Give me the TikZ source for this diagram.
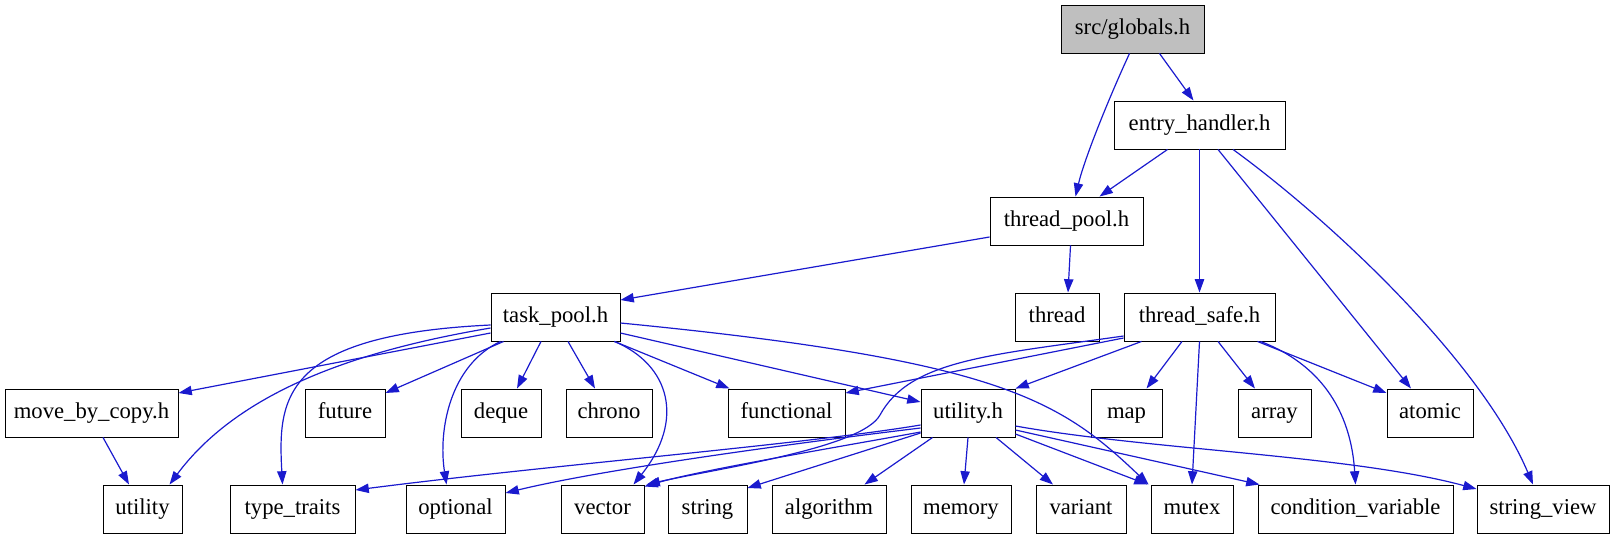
\documentclass[tikz,border=0pt]{standalone}
\usepackage{fontspec}
\setmainfont{Liberation Serif}
\usetikzlibrary{arrows.meta}
\definecolor{edgeblue}{RGB}{26,26,206}
\definecolor{rootgray}{RGB}{191,191,191}
\tikzset{
  box/.style={draw=black, line width=0.7pt, fill=white, inner sep=0pt, minimum height=36pt,
    font=\fontsize{17}{20}\selectfont, text height=11.5pt, text depth=3.5pt},
  root/.style={box, fill=rootgray},
  edge/.style={draw=edgeblue, line width=0.9pt, -{Triangle[length=10pt,width=7pt]}}
}
\begin{document}
\begin{tikzpicture}[x=0.75pt,y=-0.75pt]
\useasboundingbox (0,0) rectangle (1615,539);
% row 0
\node[root, minimum width=107.25pt] (globals) at (1132.5,29) {src/globals.h};
% row 1
\node[box, minimum width=128.25pt] (entry) at (1199.5,125) {entry\_handler.h};
% row 2
\node[box, minimum width=114.75pt] (tpool) at (1066.5,221) {thread\_pool.h};
% row 3
\node[box, minimum width=96.75pt] (taskp) at (555.5,317) {task\_pool.h};
\node[box, minimum width=63pt] (thread) at (1057,317) {thread};
\node[box, minimum width=113.25pt] (tsafe) at (1199.5,317) {thread\_safe.h};
% row 4
\node[box, minimum width=129.75pt] (mbc) at (91.5,413) {move\_by\_copy.h};
\node[box, minimum width=60pt] (future) at (345,413) {future};
\node[box, minimum width=60pt] (deque) at (501,413) {deque};
\node[box, minimum width=64.5pt] (chrono) at (609,413) {chrono};
\node[box, minimum width=87.75pt] (functional) at (786.5,413) {functional};
\node[box, minimum width=70.5pt] (utilh) at (968,413) {utility.h};
\node[box, minimum width=53.25pt] (map) at (1126.5,413) {map};
\node[box, minimum width=54.75pt] (array) at (1274.5,413) {array};
\node[box, minimum width=64.5pt] (atomic) at (1430,413) {atomic};
% row 5
\node[box, minimum width=59.25pt] (utility) at (142.5,509) {utility};
\node[box, minimum width=93.75pt] (typetraits) at (292.5,509) {type\_traits};
\node[box, minimum width=74.25pt] (optional) at (455.5,509) {optional};
\node[box, minimum width=62.25pt] (vector) at (602.5,509) {vector};
\node[box, minimum width=59.25pt] (string) at (707.5,509) {string};
\node[box, minimum width=85.5pt] (algorithm) at (829,509) {algorithm};
\node[box, minimum width=75pt] (memory) at (961,509) {memory};
\node[box, minimum width=67.5pt] (variant) at (1081,509) {variant};
\node[box, minimum width=61.5pt] (mutex) at (1192,509) {mutex};
\node[box, minimum width=146.25pt] (condvar) at (1355.5,509) {condition\_variable};
\node[box, minimum width=99pt] (stringview) at (1543,509) {string\_view};

% globals
\draw[edge] ([shift={(-3,0)}]globals.south) .. controls (1108,100) and (1084,160) .. ([shift={(9,0)}]tpool.north);
\draw[edge] ([shift={(27,0)}]globals.south) -- ([shift={(-6,0)}]entry.north);
% entry_handler
\draw[edge] ([shift={(-32,0)}]entry.south) -- ([shift={(33,0)}]tpool.north);
\draw[edge] (entry.south) -- (tsafe.north);
\draw[edge] ([shift={(18.5,0)}]entry.south) -- ([shift={(-19,0)}]atomic.north);
\draw[edge] ([shift={(33.5,0)}]entry.south) .. controls (1330,220) and (1480,360) .. ([shift={(-10,0)}]stringview.north);
% thread_pool
\draw[edge] ([shift={(0,16)}]tpool.west) -- ([shift={(0,-17)}]taskp.east);
\draw[edge] ([shift={(4,0)}]tpool.south) -- ([shift={(11,0)}]thread.north);
% task_pool
\draw[edge] ([shift={(0,16)}]taskp.west) -- ([shift={(0,-20)}]mbc.east);
\draw[edge] ([shift={(0,11)}]taskp.west) .. controls (360,350) and (240,390) .. ([shift={(27,0)}]utility.north);
\draw[edge] ([shift={(0,8)}]taskp.west) .. controls (280,335) and (278,400) .. ([shift={(-10,0)}]typetraits.north);
\draw[edge] ([shift={(13,0)}]taskp.south west) -- ([shift={(0,-20)}]future.east);
\draw[edge] ([shift={(10,0)}]taskp.south west) .. controls (450,365) and (438,430) .. ([shift={(-9,0)}]optional.north);
\draw[edge] ([shift={(-14.5,0)}]taskp.south) -- ([shift={(16,0)}]deque.north);
\draw[edge] ([shift={(12.5,0)}]taskp.south) -- ([shift={(-14,0)}]chrono.north);
\draw[edge] ([shift={(-6,0)}]taskp.south east) .. controls (670,365) and (685,420) .. ([shift={(31,0)}]vector.north);
\draw[edge] ([shift={(-6,0)}]taskp.south east) -- ([shift={(2,0)}]functional.north west);
\draw[edge] ([shift={(0,16)}]taskp.east) -- ([shift={(0,-11)}]utilh.west);
\draw[edge] ([shift={(0,6)}]taskp.east) .. controls (1000,360) and (1060,400) .. ([shift={(-2,0)}]mutex.north west);
% thread_safe
\draw[edge] ([shift={(0,21)}]tsafe.west) -- ([shift={(0,-20)}]functional.east);
\draw[edge] ([shift={(0,19)}]tsafe.west) .. controls (990,355) and (910,360) .. (880,415)
  .. controls (862,448) and (720,468) .. ([shift={(2,0)}]vector.north east);
\draw[edge] ([shift={(-58,0)}]tsafe.south) -- (utilh.north east);
\draw[edge] ([shift={(-17.5,0)}]tsafe.south) -- ([shift={(20,0)}]map.north);
\draw[edge] (tsafe.south) -- (mutex.north);
\draw[edge] ([shift={(18.5,0)}]tsafe.south) -- ([shift={(-19.5,0)}]array.north);
\draw[edge] ([shift={(-18,0)}]tsafe.south east) -- ([shift={(0,-20)}]atomic.west);
\draw[edge] ([shift={(-15,0)}]tsafe.south east) .. controls (1310,360) and (1350,400) .. (condvar.north);
% utility.h
\draw[edge] ([shift={(0,12)}]utilh.west) .. controls (800,445) and (550,465) .. ([shift={(0,-19)}]typetraits.east);
\draw[edge] ([shift={(0,15)}]utilh.west) .. controls (780,445) and (600,470) .. ([shift={(0,-16)}]optional.east);
\draw[edge] ([shift={(0,19)}]utilh.west) .. controls (850,445) and (700,470) .. ([shift={(0,2)}]vector.north east);
\draw[edge] ([shift={(0,20)}]utilh.west) -- ([shift={(0,-21)}]string.east);
\draw[edge] ([shift={(12,0)}]utilh.south west) -- ([shift={(-22,0)}]algorithm.north east);
\draw[edge] (utilh.south) -- ([shift={(3,0)}]memory.north);
\draw[edge] ([shift={(28,0)}]utilh.south) -- ([shift={(-28,0)}]variant.north);
\draw[edge] ([shift={(0,21)}]utilh.east) -- ([shift={(-3,0)}]mutex.north west);
\draw[edge] ([shift={(0,17)}]utilh.east) -- ([shift={(2,0)}]condvar.north west);
\draw[edge] ([shift={(0,13)}]utilh.east) .. controls (1150,450) and (1350,455) .. ([shift={(0,-20)}]stringview.west);
% move_by_copy
\draw[edge] ([shift={(11.5,0)}]mbc.south) -- ([shift={(-13.5,0)}]utility.north);
\end{tikzpicture}
\end{document}
